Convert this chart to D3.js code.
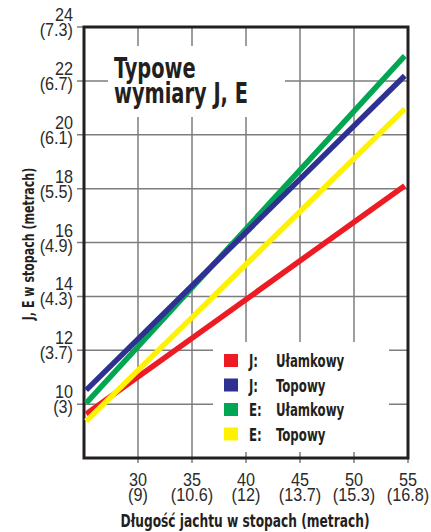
<!DOCTYPE html>
<html>
<head>
<meta charset="utf-8">
<script src="https://cdn.jsdelivr.net/npm/d3@7"></script>
<style>
  body { margin: 0; background: #fff; }
  text { font-family: "Liberation Sans", Arial, sans-serif; fill: #231f20; }
  .grid-line { stroke: #7d7d7d; stroke-width: 1.5; }
  .tick-label { font-size: 18px; fill: #2b2b2b; }
  .bold { font-family: "DejaVu Sans Condensed", "DejaVu Sans", sans-serif; font-weight: bold; }
  .legend-label { font-size: 17px; }
  .title { font-size: 28px; }
</style>
</head>
<body>
<div id="wrapper"></div>
<script>
// data (feet, metres in brackets)
const xTicks = [30, 35, 40, 45, 50, 55];
const xTickMetric = ["9", "10.6", "12", "13.7", "15.3", "16.8"];
const yTicks = [10, 12, 14, 16, 18, 20, 22, 24];
const yTickMetric = ["3", "3.7", "4.3", "4.9", "5.5", "6.1", "6.7", "7.3"];

const lengthFt = [25.2, 54.7];
const jUlamkowy = [9.63, 18.11];
const jTopowy = [10.52, 22.19];
const eUlamkowy = [10.04, 22.93];
const eTopowy = [9.37, 20.96];

const seriesLetters = ["J:", "J:", "E:", "E:"];
const seriesNames = ["Ułamkowy", "Topowy", "Ułamkowy", "Topowy"];
const seriesColors = ["#ed1c24", "#2e3192", "#00a651", "#fff200"];
const seriesValues = [jUlamkowy, jTopowy, eUlamkowy, eTopowy];
const drawOrder = [0, 2, 1, 3];

function drawChart() {

  // 1. Dimensions

  let dimensions = {
    width: 431,
    height: 532,
    margin: { top: 27, right: 23, bottom: 74, left: 84 },
  };
  dimensions.boundedWidth = dimensions.width - dimensions.margin.left - dimensions.margin.right;
  dimensions.boundedHeight = dimensions.height - dimensions.margin.top - dimensions.margin.bottom;

  // 2. Canvas

  const wrapper = d3.select("#wrapper")
    .append("svg")
    .attr("width", dimensions.width)
    .attr("height", dimensions.height);

  const bounds = wrapper.append("g")
    .attr("transform", `translate(${dimensions.margin.left}, ${dimensions.margin.top})`);

  // no narrow font installed, so squeeze the regular one horizontally
  const squeezed = (parent, x, y, sx, extra = "") => parent.append("text")
    .attr("transform", `translate(${x}, ${y}) ${extra} scale(${sx}, 1)`);

  // 3. Scales

  const xScale = d3.scaleLinear()
    .domain([25, 55])
    .range([0, dimensions.boundedWidth]);

  const yScale = d3.scaleLinear()
    .domain([8, 24])
    .range([dimensions.boundedHeight, 0]);

  // 4. Grid + ticks

  const grid = bounds.append("g");
  yTicks.forEach(d => {
    grid.append("line")
      .attr("class", "grid-line")
      .attr("x1", -7)
      .attr("x2", dimensions.boundedWidth)
      .attr("y1", yScale(d))
      .attr("y2", yScale(d));
  });
  xTicks.forEach(d => {
    grid.append("line")
      .attr("class", "grid-line")
      .attr("x1", xScale(d))
      .attr("x2", xScale(d))
      .attr("y1", 0)
      .attr("y2", dimensions.boundedHeight + 5);
  });

  // white patches behind title and legend cut the grid
  bounds.append("rect")
    .attr("x", 24).attr("y", 19)
    .attr("width", 177).attr("height", 71)
    .attr("fill", "#fff");

  bounds.append("rect")
    .attr("x", 129).attr("y", 315)
    .attr("width", 176).attr("height", 110)
    .attr("fill", "#fff");

  bounds.append("rect")
    .attr("width", dimensions.boundedWidth)
    .attr("height", dimensions.boundedHeight)
    .attr("fill", "none")
    .attr("stroke", "#231f20")
    .attr("stroke-width", 3);

  // 5. Lines

  const lineGenerator = d3.line()
    .x((d, i) => xScale(lengthFt[i]))
    .y(d => yScale(d));

  drawOrder.forEach(i => {
    bounds.append("path")
      .attr("d", lineGenerator(seriesValues[i]))
      .attr("fill", "none")
      .attr("stroke", seriesColors[i])
      .attr("stroke-width", 5.5)
      .attr("stroke-linecap", "butt");
  });

  // 6. Labels

  yTicks.forEach((d, i) => {
    const t = squeezed(bounds, -11, yScale(d), 0.9)
      .attr("class", "tick-label")
      .attr("text-anchor", "end");
    t.append("tspan").attr("x", 0).attr("y", -6).text(d);
    t.append("tspan").attr("x", 0).attr("y", 9).text(`(${yTickMetric[i]})`);
  });

  xTicks.forEach((d, i) => {
    const t = squeezed(bounds, xScale(d), dimensions.boundedHeight, 0.9)
      .attr("class", "tick-label")
      .attr("text-anchor", "middle");
    t.append("tspan").attr("x", 0).attr("y", 28).text(d);
    t.append("tspan").attr("x", 0).attr("y", 43).text(`(${xTickMetric[i]})`);
  });

  squeezed(wrapper, 34, 244, 0.82, "rotate(-90)")
    .attr("class", "bold")
    .attr("text-anchor", "middle")
    .style("font-size", "15px")
    .text("J, E w stopach (metrach)");

  squeezed(wrapper, 245, 527, 0.8)
    .attr("class", "bold")
    .attr("text-anchor", "middle")
    .style("font-size", "17px")
    .text("Długość jachtu w stopach (metrach)");

  const title = squeezed(wrapper, 114, 78, 0.77)
    .attr("class", "bold title");
  title.append("tspan").attr("x", 0).attr("y", 0).text("Typowe");
  title.append("tspan").attr("x", 0).attr("y", 25).text("wymiary J, E");

  // legend
  const legend = wrapper.append("g")
    .attr("transform", "translate(224, 361)");
  seriesNames.forEach((name, i) => {
    const row = legend.append("g")
      .attr("transform", `translate(0, ${i * 24.5})`);
    row.append("rect")
      .attr("y", -7)
      .attr("width", 14)
      .attr("height", 13)
      .attr("fill", seriesColors[i]);
    squeezed(row, 25, 6, 0.77)
      .attr("class", "bold legend-label")
      .text(seriesLetters[i]);
    squeezed(row, 52, 6, 0.77)
      .attr("class", "bold legend-label")
      .text(name);
  });
}

drawChart();
</script>
</body>
</html>
